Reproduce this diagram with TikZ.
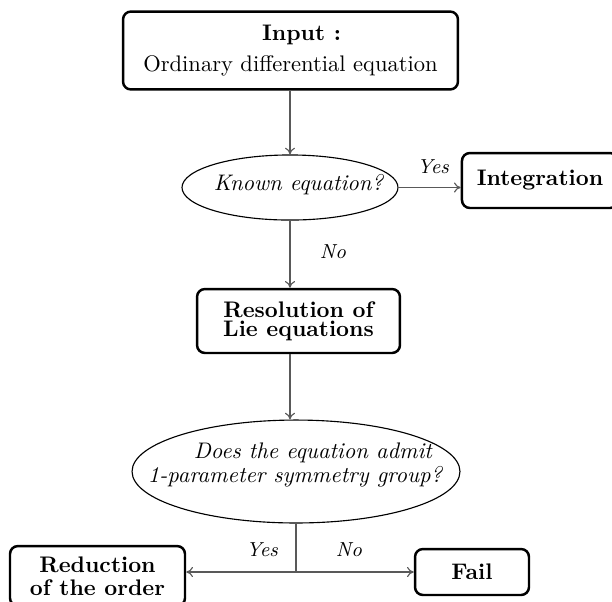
\documentclass[tikz,border=0pt]{standalone}
\usetikzlibrary{shapes.geometric,arrows.meta}
\begin{document}
\begin{tikzpicture}[x=0.444pt,y=-0.444pt,
  box/.style={draw,line width=1.1pt,rounded corners=3.5pt,inner sep=0pt,font=\bfseries},
  dec/.style={draw,ellipse,line width=0.5pt,inner sep=0pt},
  dectext/.style={inner sep=0pt,font=\itshape},
  link/.style={draw=black!65,line width=0.5pt},
  conn/.style={link,-{To[length=3pt,width=4.5pt]}},
  lbl/.style={font=\small\itshape,inner sep=0pt}]
\useasboundingbox (0,0) rectangle (612,601);

\node[box,font=\normalfont,minimum width=148.7pt,minimum height=34.6pt,align=center] (input) at (290.5,50.5)
  {\hspace*{9.8pt}\textbf{Input :}\\[1.8pt]Ordinary differential equation};
\node[dec,minimum width=95.9pt,minimum height=28.9pt] (known) at (290,187.5) {};
\node[dectext] (knowntxt) at (298.5,185) {Known equation?};
\node[box,minimum width=69.3pt,minimum height=24.4pt] (integ) at (540,180.5) {Integration};
\node[box,minimum width=90.1pt,minimum height=28.4pt,align=center,font=\fontsize{10}{8.6}\selectfont\bfseries] (res) at (298.5,321) {Resolution of\\Lie equations};
\node[dec,minimum width=145.6pt,minimum height=45.7pt] (sym) at (296,471.5) {};
\node[dectext,align=right,font=\fontsize{10}{10.3}\selectfont\itshape] (symtxt) at (295,465) {Does the equation admit\hspace*{4.5pt}\\1-parameter symmetry group?};
\node[box,minimum width=77.7pt,minimum height=26.6pt,align=center,font=\fontsize{10}{10.3}\selectfont\bfseries] (red) at (97.5,576) {Reduction\\of the order};
\node[box,minimum width=50.6pt,minimum height=20.4pt] (fail) at (472,572) {Fail};

\draw[conn] (input.south -| known.north) -- (known.north);
\draw[conn] (known.east) -- (known.east -| integ.west);
\node[lbl] (yes1) at (433,167) {Yes};
\draw[conn] (known.south) -- (known.south |- res.north);
\node[lbl] (no1) at (333,252) {No};
\draw[conn] (res.south -| known.south) -- (sym.north -| known.south);
\coordinate (split) at (sym.south |- fail.west);
\draw[link] (sym.south) -- (split);
\draw[conn] (split) -- (split -| red.east);
\draw[conn] (split) -- (fail.west);
\node[lbl] (yes2) at (262,550) {Yes};
\node[lbl] (no2) at (349,550) {No};
\end{tikzpicture}
\end{document}
